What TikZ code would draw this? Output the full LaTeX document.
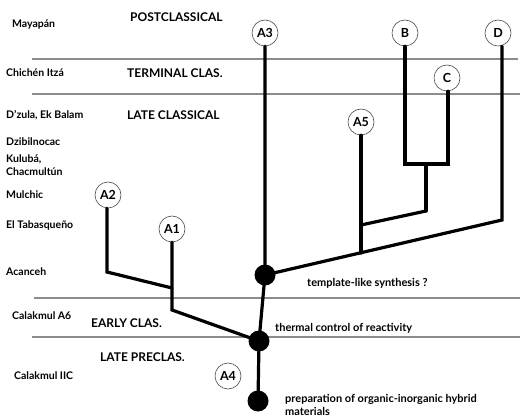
\documentclass[tikz,border=0pt]{standalone}
\usepackage{fontspec}
\setmainfont{Lato}
\usetikzlibrary{calc}
\begin{document}
\begin{tikzpicture}[x=1pt,y=-1pt,
  sep/.style={draw=black!45,line width=1.3pt},
  br/.style={line width=3.2pt,line join=miter,line cap=round},
  lbl/.style={circle,draw=black!70,line width=0.6pt,fill=white,minimum size=26pt,inner sep=0pt,font=\bfseries\fontsize{12.5}{12.5}\selectfont},
  dot/.style={circle,fill=black,minimum size=21pt,inner sep=0pt},
  site/.style={anchor=west,inner sep=0pt,font=\bfseries\fontsize{10.5}{13.5}\selectfont,align=left},
  period/.style={anchor=west,inner sep=0pt,font=\bfseries\fontsize{12}{12}\selectfont},
  note/.style={anchor=west,inner sep=0pt,font=\bfseries\fontsize{11}{13}\selectfont,align=left}]
\useasboundingbox[fill=white] (0,0) rectangle (524,419);
% separators
\draw[sep] (32,59) -- (518,59);
\draw[sep] (32,94) -- (520,94);
\draw[sep] (34,298) -- (520,298);
\draw[sep] (32,337) -- (520,337);
% site labels
\node[site] (s1) at (12,25) {Mayapán};
\node[site] (s2) at (6,73) {Chichén Itzá};
\node[site] (s3) at (6,115) {D'zula, Ek Balam};
\node[site] (s4) at (6,142) {Dzibilnocac};
\node[site] (s5) at (6,165) {Kulubá,\\Chacmultún};
\node[site] (s6) at (6,195) {Mulchic};
\node[site] (s7) at (6,225) {El Tabasqueño};
\node[site] (s8) at (6,272) {Acanceh};
\node[site] (s9) at (12,316) {Calakmul A6};
\node[site] (s10) at (14,376) {Calakmul IIC};
% periods
\node[period] (p1) at (130,17) {POSTCLASSICAL};
\node[period] (p2) at (127,73) {TERMINAL CLAS.};
\node[period] (p3) at (127,115) {LATE CLASSICAL};
\node[period] (p4) at (91,323) {EARLY CLAS.};
\node[period] (p5) at (100,357) {LATE PRECLAS.};
% dots
\node[dot] (d1) at (265,275) {};
\node[dot] (d2) at (259,341) {};
\node[dot] (d3) at (258,401) {};
% labelled circles
\node[lbl] (A3) at (265,33) {A3};
\node[lbl] (B) at (405,33) {B};
\node[lbl] (D) at (498,33) {D};
\node[lbl] (C) at (447,78) {C};
\node[lbl] (A5) at (361,122) {A5};
\node[lbl] (A2) at (108,195) {A2};
\node[lbl] (A1) at (172,229) {A1};
\node[lbl] (A4) at (228,376) {A4};
% bend coordinates
\coordinate (dk) at (502,220);
\coordinate (bk) at (405,164);
\coordinate (ck) at (448,164);
\coordinate (bc) at (426,164);
\coordinate (bcl) at (426,211);
\coordinate (a5f) at ($(d1)!0.4!(dk)$);
\coordinate (a5m) at (361,225);
\coordinate (a2k) at (107,272);
\coordinate (a1m) at (172,288);
\coordinate (a1k) at (172,310);
% branches
\draw[br] (A3.south) -- (d1.center) -- (d2.center) -- (d3.center);
\draw[br] (d1.center) -- (dk) -- (D.south -| dk);
\draw[br] (A5.south) -- (A5.south |- a5f);
\draw[br] (bcl) -- (a5m);
\draw[br] (B.south) -- (bk) -- (ck) -- (C.south -| ck);
\draw[br] (bc) -- (bcl);
\draw[br] (A2.south -| a2k) -- (a2k) -- (a1m);
\draw[br] (A1.south) -- (a1k) -- (d2.center);
% notes
\node[note] (n1) at (307,283) {template-like synthesis ?};
\node[note] (n2) at (275,328) {thermal control of reactivity};
\node[note] (n3) at (285,405) {preparation of organic-inorganic hybrid\\materials};
\end{tikzpicture}
\end{document}
